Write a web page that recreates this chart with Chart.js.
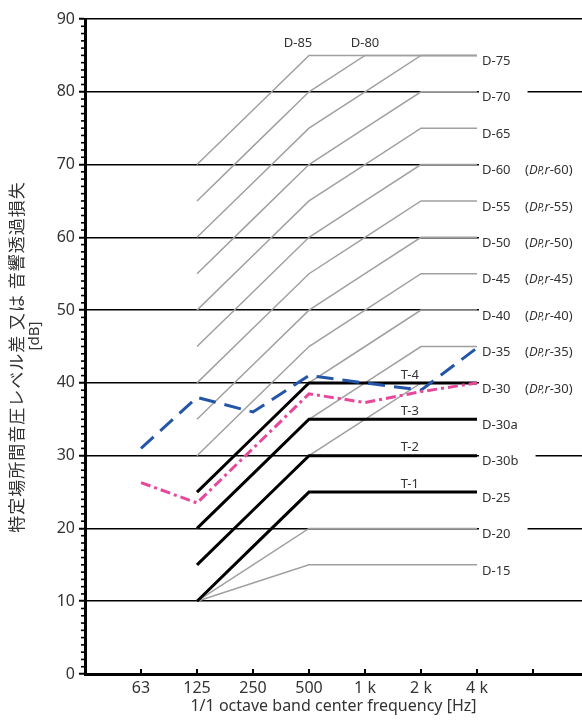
<!DOCTYPE html>
<html>
<head>
<meta charset="utf-8">
<script src="https://cdn.jsdelivr.net/npm/chart.js@4.4.0/dist/chart.umd.min.js"></script>
<style>
  html, body { margin: 0; padding: 0; background: #fff; }
  #wrap { width: 582px; height: 722px; position: relative; }
</style>
</head>
<body>
<div id="wrap"><canvas id="grafico"></canvas></div>
<script>
// octave bands (x = index)
const freqLabels = ['63', '125', '250', '500', '1 k', '2 k', '4 k'];

// gray D curves, values at 63..4k (null = not drawn)
const d15 = [null, 10, 12.5, 15, 15, 15, 15];
const d20 = [null, 10, 15, 20, 20, 20, 20];
const d30 = [null, 15, 22.5, 30, 35, 40, 40];
const d35 = [null, 20, 27.5, 35, 40, 45, 45];
const d40 = [null, 25, 32.5, 40, 45, 50, 50];
const d45 = [null, 30, 37.5, 45, 50, 55, 55];
const d50 = [null, 35, 42.5, 50, 55, 60, 60];
const d55 = [null, 40, 47.5, 55, 60, 65, 65];
const d60 = [null, 45, 52.5, 60, 65, 70, 70];
const d65 = [null, 50, 57.5, 65, 70, 75, 75];
const d70 = [null, 55, 62.5, 70, 75, 80, 80];
const d75 = [null, 60, 67.5, 75, 80, 85, 85];
const d80 = [null, 65, 72.5, 80, 85, 85, 85];
const d85 = [null, 70, 77.5, 85, 85, 85, 85];

// black T curves
const t1 = [null, 10, 17.5, 25, 25, 25, 25];
const t2 = [null, 15, 22.5, 30, 30, 30, 30];
const t3 = [null, 20, 27.5, 35, 35, 35, 35];
const t4 = [null, 25, 32.5, 40, 40, 40, 40];

// measured lines
const blueLine = [31, 38, 36, 41, 40, 39, 44.8];
const pinkLine = [26.3, 23.5, 31, 38.5, 37.3, 38.8, 40];

// labels on the right side
const rightNames = ['D-75', 'D-70', 'D-65', 'D-60', 'D-55', 'D-50', 'D-45', 'D-40', 'D-35', 'D-30', 'D-30a', 'D-30b', 'D-25', 'D-20', 'D-15'];
const rightLevels = [85, 80, 75, 70, 65, 60, 55, 50, 45, 40, 35, 30, 25, 20, 15];
const dprNames = [null, null, null, '60', '55', '50', '45', '40', '35', '30', null, null, null, null, null];
const topNames = ['D-85', 'D-80'];
const tNames = ['T-1', 'T-2', 'T-3', 'T-4'];
const tLevels = [25, 30, 35, 40];

const fonte = "'Noto Sans', 'Noto Sans CJK JP', sans-serif";
const fonteJp = "'Noto Sans CJK JP', 'Noto Sans', sans-serif";

function pontos(arr) {
  const out = [];
  arr.forEach((v, i) => { if (v !== null) out.push({ x: i, y: v }); });
  return out;
}

function linha(arr, cor, largura, dash, ordem) {
  return {
    data: pontos(arr),
    borderColor: cor,
    borderWidth: largura,
    borderDash: dash,
    pointRadius: 0,
    tension: 0,
    fill: false,
    order: ordem
  };
}

const datasets = [];
datasets.push(linha(pinkLine, '#e8489b', 3, [10, 4, 3, 4], 0));
datasets.push(linha(blueLine, '#2356a8', 3, [17, 9], 1));
[t1, t2, t3, t4].forEach((t) => datasets.push(linha(t, '#000', 3, [], 2)));
[d15, d20, d30, d35, d40, d45, d50, d55, d60, d65, d70, d75, d80, d85].forEach((d) =>
  datasets.push(linha(d, '#a0a0a0', 1.5, [], 3))
);

const rotulos = {
  id: 'rotulos',
  afterDatasetsDraw(chart) {
    const { ctx, chartArea, scales: { x, y } } = chart;
    ctx.save();

    // minor ticks on y axis
    ctx.strokeStyle = '#000';
    ctx.lineWidth = 1.6;
    for (let v = 1; v < 90; v++) {
      if (v % 10 === 0) continue;
      const py = y.getPixelForValue(v);
      ctx.beginPath();
      ctx.moveTo(chartArea.left - 4, py);
      ctx.lineTo(chartArea.left, py);
      ctx.stroke();
    }

    // x tick marks pointing up
    ctx.lineWidth = 2;
    for (let i = 0; i <= 7; i++) {
      const px = x.getPixelForValue(i);
      ctx.beginPath();
      ctx.moveTo(px, chartArea.bottom);
      ctx.lineTo(px, chartArea.bottom - 5);
      ctx.stroke();
    }

    // right labels
    ctx.textBaseline = 'middle';
    ctx.textAlign = 'left';
    const x0 = x.getPixelForValue(6);
    rightNames.forEach((nome, i) => {
      const py = y.getPixelForValue(rightLevels[i]) + 6;
      ctx.font = '13px ' + fonte;
      const w = ctx.measureText(nome).width;
      const fim = dprNames[i] ? chartArea.right : x0 + 5 + w + 17;
      ctx.fillStyle = '#fff';
      ctx.fillRect(x0 + 2, py - 8, fim - x0 - 2, 16);
      ctx.fillStyle = '#333';
      ctx.fillText(nome, x0 + 5, py);
      if (dprNames[i]) {
        let cx = 525;
        const partes = [
          ['(', '13px ' + fonte, 0],
          ['D', 'italic 13px ' + fonte, 0],
          ['P,', 'italic 10px ' + fonte, 1],
          ['r', 'italic 13px ' + fonte, 0],
          ['-' + dprNames[i] + ')', '13px ' + fonte, 0]
        ];
        partes.forEach((p) => {
          ctx.font = p[1];
          ctx.fillText(p[0], cx, py + p[2]);
          cx += ctx.measureText(p[0]).width;
        });
      }
    });

    // D-85 / D-80 on top
    ctx.font = '13px ' + fonte;
    ctx.textAlign = 'center';
    const yTop = y.getPixelForValue(85) - 12;
    ctx.fillText(topNames[0], x.getPixelForValue(3) - 11, yTop);
    ctx.fillText(topNames[1], x.getPixelForValue(4), yTop);

    // T labels
    tNames.forEach((nome, i) => {
      ctx.fillText(nome, x.getPixelForValue(4.8), y.getPixelForValue(tLevels[i]) - 8);
    });

    // axis titles
    ctx.font = '16px ' + fonte;
    ctx.textBaseline = 'alphabetic';
    ctx.fillText('1/1 octave band center frequency [Hz]', (chartArea.left + chartArea.right) / 2, 711);

    ctx.save();
    ctx.translate(17, 357);
    ctx.rotate(-Math.PI / 2);
    ctx.textBaseline = 'middle';
    ctx.font = '17px ' + fonteJp;
    ctx.letterSpacing = '1px';
    ctx.fillText('特定場所間音圧レベル差 又は 音響透過損失', 0, 0);
    ctx.restore();

    ctx.save();
    ctx.translate(35, 336);
    ctx.rotate(-Math.PI / 2);
    ctx.textBaseline = 'middle';
    ctx.font = '15px ' + fonte;
    ctx.fillText('[dB]', 0, 0);
    ctx.restore();

    ctx.restore();
  }
};

new Chart(document.getElementById('grafico'), {
  type: 'line',
  data: { datasets: datasets },
  options: {
    responsive: true,
    maintainAspectRatio: false,
    animation: false,
    layout: { padding: { top: 19, right: 0, left: 0, bottom: 0 } },
    plugins: {
      legend: { display: false },
      tooltip: { enabled: false }
    },
    scales: {
      x: {
        type: 'linear',
        min: -1,
        max: 7.875,
        afterBuildTicks: (scale) => {
          scale.ticks = freqLabels.map((l, i) => ({ value: i }));
        },
        afterFit: (scale) => { scale.height = 48; },
        ticks: {
          autoSkip: false,
          maxRotation: 0,
          padding: 5,
          color: '#333',
          font: { size: 16, family: fonte },
          callback: (v) => freqLabels[v] || ''
        },
        grid: { display: false, drawTicks: false },
        border: { display: true, color: '#000', width: 3 }
      },
      y: {
        min: 0,
        max: 90,
        afterFit: (scale) => { scale.width = 85; },
        ticks: {
          stepSize: 10,
          padding: 4,
          color: '#333',
          font: { size: 16, family: fonte }
        },
        grid: {
          color: '#000',
          lineWidth: 1.5,
          tickLength: 6,
          tickColor: '#000',
          tickWidth: 2
        },
        border: { display: true, color: '#000', width: 3 }
      }
    }
  },
  plugins: [rotulos]
});
</script>
</body>
</html>
